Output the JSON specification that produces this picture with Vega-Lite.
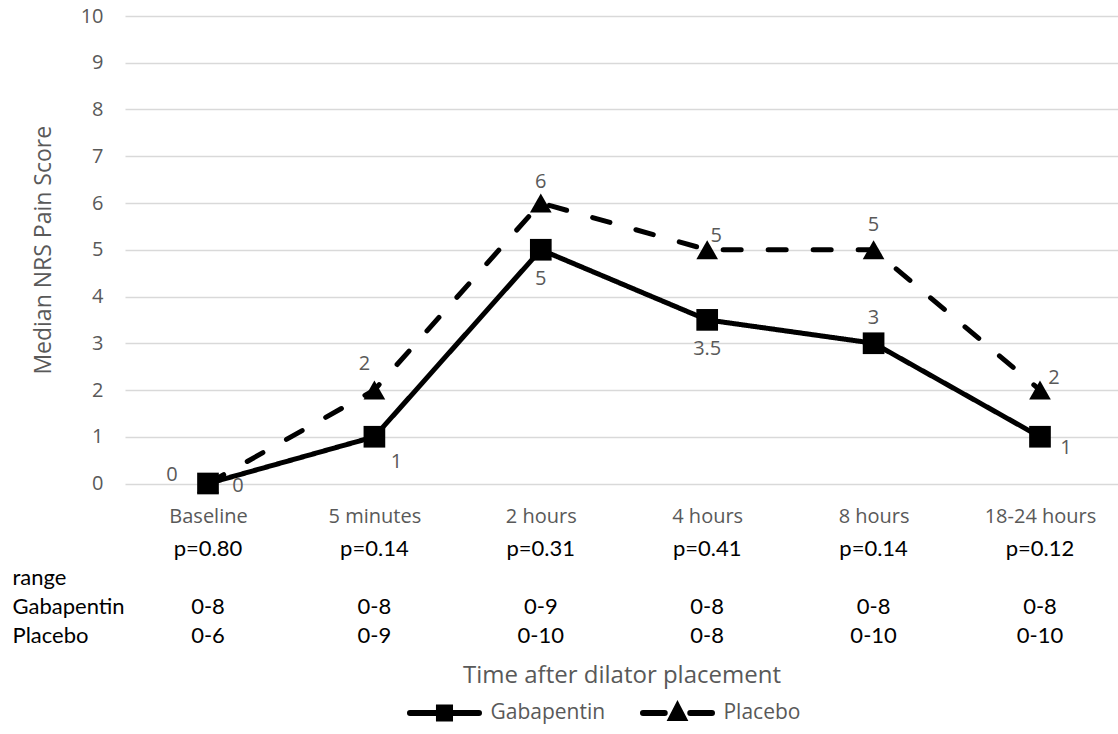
{
  "$schema": "https://vega.github.io/schema/vega-lite/v6.json",
  "padding": {"left": 12, "top": 6, "right": 0, "bottom": 0},
  "background": "white",
  "spacing": 7,
  "config": {
    "view": {"stroke": null},
    "font": "Open Sans",
    "axis": {"gridColor": "#d9d9d9", "gridWidth": 1.3}
  },
  "resolve": {"scale": {"shape": "independent"}},
  "vconcat": [
    {
      "width": 993,
      "height": 467.5,
      "data": {"values": [
        {"time": "Baseline", "series": "Gabapentin", "value": 0},
        {"time": "5 minutes", "series": "Gabapentin", "value": 1},
        {"time": "2 hours", "series": "Gabapentin", "value": 5},
        {"time": "4 hours", "series": "Gabapentin", "value": 3.5},
        {"time": "8 hours", "series": "Gabapentin", "value": 3},
        {"time": "18-24 hours", "series": "Gabapentin", "value": 1},
        {"time": "Baseline", "series": "Placebo", "value": 0},
        {"time": "5 minutes", "series": "Placebo", "value": 2},
        {"time": "2 hours", "series": "Placebo", "value": 6},
        {"time": "4 hours", "series": "Placebo", "value": 5},
        {"time": "8 hours", "series": "Placebo", "value": 5},
        {"time": "18-24 hours", "series": "Placebo", "value": 2}
      ]},
      "encoding": {
        "x": {
          "field": "time",
          "type": "nominal",
          "scale": {
            "type": "point",
            "domain": ["Baseline", "5 minutes", "2 hours", "4 hours", "8 hours", "18-24 hours"],
            "padding": 0.4838,
            "align": 0.5155
          },
          "axis": {
            "title": null,
            "grid": false,
            "domain": false,
            "ticks": false,
            "tickSize": 0,
            "labelAngle": 0,
            "labelPadding": 23,
            "labelFontSize": 20,
            "labelColor": "#595959",
            "labelFont": "Open Sans"
          }
        },
        "y": {
          "field": "value",
          "type": "quantitative",
          "scale": {"domain": [0, 10], "nice": false, "zero": false},
          "axis": {
            "title": "Median NRS Pain Score",
            "values": [0, 1, 2, 3, 4, 5, 6, 7, 8, 9, 10],
            "grid": true,
            "domain": false,
            "ticks": false,
            "tickSize": 0,
            "labelPadding": 22,
            "labelFontSize": 20,
            "labelColor": "#595959",
            "labelFont": "Open Sans",
            "titleFontSize": 23,
            "titleFont": "Open Sans",
            "titleFontWeight": "normal",
            "titleColor": "#595959",
            "titlePadding": 25
          }
        }
      },
      "layer": [
        {
          "mark": {"type": "line", "strokeWidth": 5, "strokeCap": "round", "strokeJoin": "round", "color": "black"},
          "encoding": {
            "detail": {"field": "series", "type": "nominal"},
            "order": {"value": null},
            "strokeDash": {
              "field": "series",
              "type": "nominal",
              "scale": {"domain": ["Gabapentin", "Placebo"], "range": [[1, 0], [18, 27]]},
              "legend": null
            }
          }
        },
        {
          "mark": {"type": "point", "filled": true, "opacity": 1, "size": 470, "color": "black"},
          "encoding": {
            "shape": {
              "field": "series",
              "type": "nominal",
              "scale": {"domain": ["Gabapentin", "Placebo"], "range": ["square", "triangle-up"]},
              "legend": null
            }
          }
        },
        {
          "transform": [{"filter": "datum.series === 'Gabapentin' && (datum.time === '2 hours' || datum.time === '4 hours')"}],
          "mark": {"type": "text", "dy": 29, "fontSize": 20, "color": "#595959", "font": "Open Sans"},
          "encoding": {"text": {"field": "value", "type": "quantitative"}}
        },
        {
          "transform": [{"filter": "datum.time === '8 hours'"}],
          "mark": {"type": "text", "dy": -25, "fontSize": 20, "color": "#595959", "font": "Open Sans"},
          "encoding": {"text": {"field": "value", "type": "quantitative"}}
        },
        {
          "transform": [{"filter": "datum.series === 'Placebo' && datum.time === '2 hours'"}],
          "mark": {"type": "text", "dy": -21, "fontSize": 20, "color": "#595959", "font": "Open Sans"},
          "encoding": {"text": {"field": "value", "type": "quantitative"}}
        },
        {
          "transform": [{"filter": "datum.series === 'Gabapentin' && datum.time === 'Baseline'"}],
          "mark": {"type": "text", "dx": 30, "dy": 2, "fontSize": 20, "color": "#595959", "font": "Open Sans"},
          "encoding": {"text": {"field": "value", "type": "quantitative"}}
        },
        {
          "transform": [{"filter": "datum.series === 'Gabapentin' && datum.time === '5 minutes'"}],
          "mark": {"type": "text", "dx": 22, "dy": 25, "fontSize": 20, "color": "#595959", "font": "Open Sans"},
          "encoding": {"text": {"field": "value", "type": "quantitative"}}
        },
        {
          "transform": [{"filter": "datum.series === 'Gabapentin' && datum.time === '18-24 hours'"}],
          "mark": {"type": "text", "dx": 26, "dy": 11, "fontSize": 20, "color": "#595959", "font": "Open Sans"},
          "encoding": {"text": {"field": "value", "type": "quantitative"}}
        },
        {
          "transform": [{"filter": "datum.series === 'Placebo' && datum.time === 'Baseline'"}],
          "mark": {"type": "text", "dx": -36, "dy": -9, "fontSize": 20, "color": "#595959", "font": "Open Sans"},
          "encoding": {"text": {"field": "value", "type": "quantitative"}}
        },
        {
          "transform": [{"filter": "datum.series === 'Placebo' && datum.time === '5 minutes'"}],
          "mark": {"type": "text", "dx": -10, "dy": -26, "fontSize": 20, "color": "#595959", "font": "Open Sans"},
          "encoding": {"text": {"field": "value", "type": "quantitative"}}
        },
        {
          "transform": [{"filter": "datum.series === 'Placebo' && datum.time === '4 hours'"}],
          "mark": {"type": "text", "dx": 9, "dy": -14, "fontSize": 20, "color": "#595959", "font": "Open Sans"},
          "encoding": {"text": {"field": "value", "type": "quantitative"}}
        },
        {
          "transform": [{"filter": "datum.series === 'Placebo' && datum.time === '18-24 hours'"}],
          "mark": {"type": "text", "dx": 14, "dy": -12, "fontSize": 20, "color": "#595959", "font": "Open Sans"},
          "encoding": {"text": {"field": "value", "type": "quantitative"}}
        }
      ]
    },
    {
      "width": 993,
      "height": 116,
      "data": {"values": [
        {"time": "Baseline", "row": "p", "text": "p=0.80"},
        {"time": "5 minutes", "row": "p", "text": "p=0.14"},
        {"time": "2 hours", "row": "p", "text": "p=0.31"},
        {"time": "4 hours", "row": "p", "text": "p=0.41"},
        {"time": "8 hours", "row": "p", "text": "p=0.14"},
        {"time": "18-24 hours", "row": "p", "text": "p=0.12"},
        {"time": "Baseline", "row": "Gabapentin", "text": "0-8"},
        {"time": "5 minutes", "row": "Gabapentin", "text": "0-8"},
        {"time": "2 hours", "row": "Gabapentin", "text": "0-9"},
        {"time": "4 hours", "row": "Gabapentin", "text": "0-8"},
        {"time": "8 hours", "row": "Gabapentin", "text": "0-8"},
        {"time": "18-24 hours", "row": "Gabapentin", "text": "0-8"},
        {"time": "Baseline", "row": "Placebo", "text": "0-6"},
        {"time": "5 minutes", "row": "Placebo", "text": "0-9"},
        {"time": "2 hours", "row": "Placebo", "text": "0-10"},
        {"time": "4 hours", "row": "Placebo", "text": "0-8"},
        {"time": "8 hours", "row": "Placebo", "text": "0-10"},
        {"time": "18-24 hours", "row": "Placebo", "text": "0-10"}
      ]},
      "mark": {"type": "text", "fontSize": 22, "color": "black", "font": "Lato"},
      "encoding": {
        "x": {
          "field": "time",
          "type": "nominal",
          "scale": {
            "type": "point",
            "domain": ["Baseline", "5 minutes", "2 hours", "4 hours", "8 hours", "18-24 hours"],
            "padding": 0.4838,
            "align": 0.5155
          },
          "axis": {
            "title": "Time after dilator placement",
            "labels": false,
            "grid": false,
            "domain": false,
            "ticks": false,
            "tickSize": 0,
            "titleFontSize": 24,
            "titleFont": "Open Sans",
            "titleFontWeight": "normal",
            "titleColor": "#595959",
            "titlePadding": 13
          }
        },
        "y": {
          "field": "row",
          "type": "nominal",
          "scale": {"type": "point", "domain": ["p", "range", "Gabapentin", "Placebo"], "padding": 0.5},
          "axis": {
            "title": null,
            "grid": false,
            "domain": false,
            "ticks": false,
            "tickSize": 0,
            "labelAlign": "left",
            "labelPadding": 113,
            "labelFontSize": 22,
            "labelFont": "Lato",
            "labelColor": "black",
            "labelExpr": "datum.value === 'p' ? '' : datum.value"
          }
        },
        "text": {"field": "text", "type": "nominal"}
      }
    },
    {
      "width": 699,
      "height": 28,
      "data": {"values": [
        {"item": "Gabapentin"},
        {"item": "Placebo"}
      ]},
      "encoding": {
        "x": {
          "field": "item",
          "type": "nominal",
          "scale": {"type": "point", "domain": ["Gabapentin", "Placebo"], "padding": 1, "align": 0.6856},
          "axis": null
        }
      },
      "layer": [
        {
          "mark": {"type": "point", "filled": true, "fill": "black", "stroke": "black", "strokeWidth": 6, "strokeCap": "round", "opacity": 1, "size": 289},
          "encoding": {
            "shape": {
              "field": "item",
              "type": "nominal",
              "scale": {"domain": ["Gabapentin", "Placebo"], "range": ["M-4.06,0H4.06M-0.65,-0.65H0.65V0.65H-0.65Z", "M-4.06,0H-1.5M1.5,0H4.06M0,-0.75L0.7,0.6H-0.7Z"]},
              "legend": null
            }
          }
        },
        {
          "mark": {"type": "text", "align": "left", "dx": 46, "fontSize": 21, "font": "Open Sans", "color": "#595959"},
          "encoding": {"text": {"field": "item", "type": "nominal"}}
        }
      ]
    }
  ]
}
